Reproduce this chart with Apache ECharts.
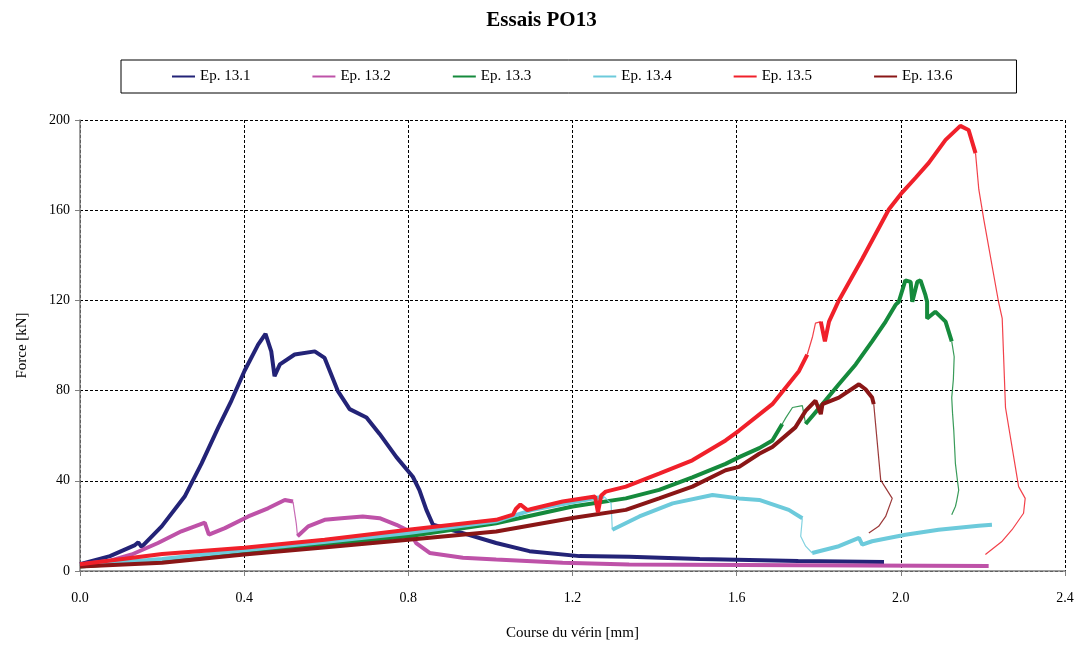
<!DOCTYPE html>
<html><head><meta charset="utf-8">
<script src="https://cdn.jsdelivr.net/npm/echarts@6/dist/echarts.min.js"></script>
<style>html,body{margin:0;padding:0;background:#fff}#c{width:1083px;height:646px}</style>
</head><body><div id="c"></div>
<script>
const seriesNames = ['Ep. 13.1','Ep. 13.2','Ep. 13.3','Ep. 13.4','Ep. 13.5','Ep. 13.6'];
const xTicks = [0, 0.4, 0.8, 1.2, 1.6, 2.0, 2.4];
const yTicks = [0, 40, 80, 120, 160, 200];

// Ep. 13.1
const ep131 = [[0.0,3],[0.073,6.6],[0.134,11.5],[0.142,12.7],[0.150,10.7],[0.199,19.8],[0.255,33],[0.296,47.6],[0.337,63.7],[0.369,75.6],[0.401,88.8],[0.434,100.4],[0.452,105.2],[0.466,97.4],[0.474,86.4],[0.487,91.6],[0.523,96],[0.572,97.4],[0.596,94.5],[0.628,79.9],[0.657,71.8],[0.698,68.1],[0.73,60.8],[0.771,50.5],[0.811,41.8],[0.827,35.9],[0.844,27.1],[0.86,20.5],[0.933,16.8],[1.014,12.4],[1.095,8.8],[1.217,6.6],[1.338,6.3],[1.51,5.3],[1.75,4.4],[1.959,4]];
// Ep. 13.2
const ep132a = [[0.0,2.9],[0.069,4.4],[0.126,7.3],[0.19,12.4],[0.247,17.6],[0.304,21.5],[0.308,21.8],[0.314,16.1],[0.353,19],[0.41,24.2],[0.458,27.8],[0.499,31.5],[0.519,30.8]];
const ep132b = [[0.519,30.8],[0.522,27],[0.527,21],[0.53,15.4]];
const ep132c = [[0.53,15.4],[0.556,19.8],[0.596,22.7],[0.637,23.4],[0.689,24.2],[0.73,23.4],[0.771,20.5],[0.803,17.6],[0.819,12.4],[0.852,8],[0.933,5.9],[1.014,5.1],[1.176,3.7],[1.338,2.9],[1.752,2.6],[2.214,2.2]];
// Ep. 13.3
const ep133a = [[0.0,2],[0.2,4.6],[0.4,8.4],[0.6,11.8],[0.8,15.4],[1.014,21.2],[1.2,28.6],[1.33,32.2],[1.411,36],[1.492,41.5],[1.573,47.5],[1.606,50.5],[1.655,54.5],[1.687,57.9],[1.711,65.2]];
const ep133b = [[1.711,65.2],[1.72,68],[1.736,72.5],[1.76,73.3],[1.768,65.2]];
const ep133c = [[1.768,65.2],[1.809,74],[1.849,82.8],[1.89,91.6],[1.93,101.8],[1.963,110.6],[1.987,118],[1.995,119.4],[2.011,128.9],[2.024,128.2],[2.028,119.4],[2.04,128.2],[2.048,128.9],[2.06,122.3],[2.064,119.4],[2.064,112],[2.084,115],[2.109,110.6],[2.124,101.8]];
const ep133d = [[2.124,101.8],[2.13,95],[2.128,85],[2.124,76.9],[2.126,70],[2.129,62.3],[2.131,55],[2.133,47.6],[2.138,40],[2.141,35.9],[2.136,31],[2.133,28.6],[2.124,24.9]];
// Ep. 13.4
const ep134a = [[0.0,2.5],[0.2,5.3],[0.4,9.2],[0.6,13],[0.8,16.8],[1.014,22],[1.1,27],[1.2,30.5],[1.277,33]];
const ep134b = [[1.277,33],[1.294,30],[1.297,18.3]];
const ep134c = [[1.297,18.3],[1.363,24.2],[1.444,30],[1.541,33.7],[1.606,32.2],[1.655,31.5],[1.727,27.1],[1.76,23.4]];
const ep134d = [[1.76,23.4],[1.756,15.4],[1.768,11],[1.784,8]];
const ep134e = [[1.784,8],[1.849,11],[1.898,14.7],[1.906,11.7],[1.93,13.2],[2.011,16.1],[2.092,18.3],[2.19,20.1],[2.222,20.5]];
// Ep. 13.5
const ep135a = [[0.0,3],[0.109,5.4],[0.2,7.5],[0.4,10.3],[0.596,13.9],[0.8,18.3],[1.014,22.7],[1.055,25],[1.062,27.5],[1.073,29.5],[1.09,27],[1.1,27.5],[1.176,30.8],[1.255,33],[1.262,26],[1.27,33.5],[1.281,35.2],[1.33,37.4],[1.411,43.2],[1.492,49.1],[1.573,57.9],[1.606,62.3],[1.687,74],[1.752,88.7],[1.772,96]];
const ep135b = [[1.772,96],[1.785,104],[1.792,109.9],[1.805,110.6]];
const ep135c = [[1.805,110.6],[1.815,101.8],[1.825,110.6],[1.849,120],[1.906,138.5],[1.971,160.4],[2.003,167.8],[2.036,174.4],[2.068,181],[2.109,191.2],[2.145,197.4],[2.165,195.6],[2.182,185.3]];
const ep135d = [[2.182,185.3],[2.19,169.2],[2.202,156],[2.238,119.4],[2.247,112],[2.255,72.5],[2.287,37.4],[2.303,32.2],[2.299,25.6],[2.271,18.3],[2.247,13.2],[2.206,7.3]];
// Ep. 13.6
const ep136a = [[0.0,2],[0.2,3.7],[0.4,7.3],[0.6,10.5],[0.8,13.9],[1.014,17.5],[1.2,23.5],[1.33,27.1],[1.411,32.2],[1.492,37.4],[1.573,44.7],[1.606,46.2],[1.655,52],[1.687,55],[1.743,63.7],[1.768,71],[1.792,75.5],[1.805,69.6],[1.809,74],[1.849,76.9],[1.898,82.8],[1.914,80.6],[1.93,76.9],[1.934,74]];
const ep136b = [[1.934,74],[1.951,40.3],[1.979,32.2],[1.963,24.2],[1.946,19.8],[1.922,16.8]];

const colors = ['#232377','#BE52A8','#158A3C','#6CCADB','#F0202A','#8A1616'];
const segments = [
  [0, ep131, 4],
  [1, ep132a, 4],[1, ep132b, 1.2],[1, ep132c, 4],
  [2, ep133a, 4],[2, ep133b, 1.2],[2, ep133c, 4],[2, ep133d, 1.2],
  [3, ep134a, 4],[3, ep134b, 1.2],[3, ep134c, 4],[3, ep134d, 1.2],[3, ep134e, 4],
  [5, ep136a, 4],[5, ep136b, 1.2],
  [4, ep135a, 4],[4, ep135b, 1.2],[4, ep135c, 4],[4, ep135d, 1.2]
];
const series = segments.map(([i, d, w]) => ({
  name: seriesNames[i], type: 'line', data: d, symbol: 'none', showSymbol: false,
  lineStyle: { color: colors[i], width: w, opacity: w < 2 ? 0.85 : 1 },
  itemStyle: { color: colors[i] }, animation: false, silent: true
}));

const FONT = '"Liberation Serif", "Times New Roman", serif';
const chart = echarts.init(document.getElementById('c'), null, {renderer: 'canvas'});
chart.setOption({
  backgroundColor: '#fff',
  animation: false,
  title: { text: 'Essais PO13', left: 'center', top: 5,
    textStyle: { fontFamily: FONT, fontSize: 21, fontWeight: 'bold', color: '#000' } },
  legend: {
    data: seriesNames, top: 60, left: 121,
    borderColor: '#000', borderWidth: 1, padding: [9, 64, 9, 51], itemGap: 62,
    icon: 'rect', itemWidth: 23, itemHeight: 2,
    textStyle: { fontFamily: FONT, fontSize: 15, color: '#000' }
  },
  grid: { left: 80, right: 18, top: 120, bottom: 71 },
  xAxis: {
    type: 'value', min: 0, max: 2.4, interval: 0.4,
    name: 'Course du vérin [mm]', nameLocation: 'middle', nameGap: 55,
    nameTextStyle: { fontFamily: FONT, fontSize: 15, color: '#000' },
    axisLine: { show: true, lineStyle: { color: '#808080', width: 1.5 } },
    axisTick: { show: true, length: 5, lineStyle: { color: '#808080' } },
    axisLabel: { margin: 20, fontFamily: FONT, fontSize: 14, color: '#000',
      formatter: v => v.toFixed(1) },
    splitLine: { show: true, lineStyle: { color: '#000', type: [3, 2], width: 1 } }
  },
  yAxis: {
    type: 'value', min: 0, max: 200, interval: 40,
    name: 'Force [kN]', nameLocation: 'middle', nameGap: 50, nameRotate: 90,
    nameTextStyle: { fontFamily: FONT, fontSize: 15, color: '#000' },
    axisLine: { show: true, lineStyle: { color: '#808080', width: 1.5 } },
    axisTick: { show: true, length: 5, lineStyle: { color: '#808080' } },
    axisLabel: { margin: 10, fontFamily: FONT, fontSize: 14, color: '#000' },
    splitLine: { show: true, lineStyle: { color: '#000', type: [3, 2], width: 1 } }
  },
  series: series
});
</script></body></html>
